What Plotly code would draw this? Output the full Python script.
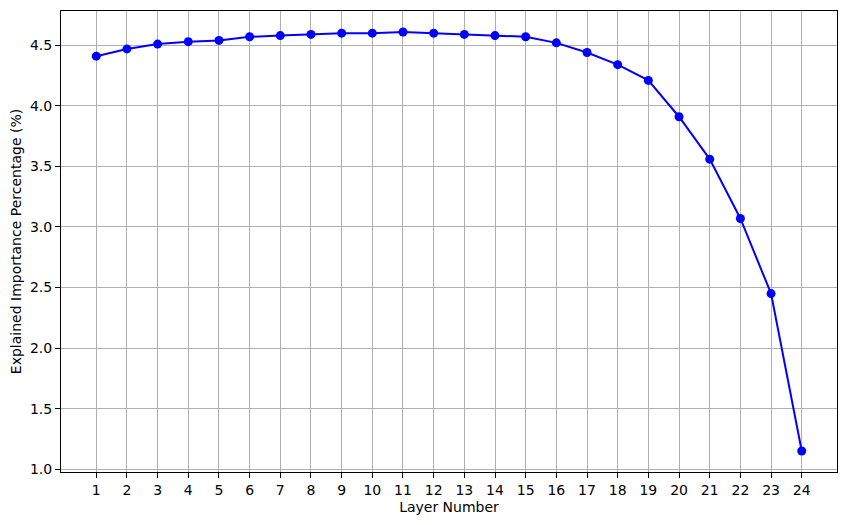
import plotly.graph_objects as go

# layer index and explained importance (%)
layers = list(range(1, 25))
importance = [4.41, 4.47, 4.51, 4.53, 4.54, 4.57, 4.58, 4.59, 4.60, 4.60, 4.61, 4.60,
              4.59, 4.58, 4.57, 4.52, 4.44, 4.34, 4.21, 3.91, 3.56, 3.07, 2.45, 1.15]
y_ticks = [1.0, 1.5, 2.0, 2.5, 3.0, 3.5, 4.0, 4.5]

fig = go.Figure()

fig.add_trace(go.Scatter(x=layers, y=importance, mode='lines+markers',
                         line=dict(color='blue', width=2),
                         marker=dict(color='blue', size=9),
                         showlegend=False))

axis_font = dict(family='DejaVu Sans', size=14, color='black')

# page body has an 8px margin, so the figure is sized/offset to compensate
fig.update_layout(
    width=838, height=517,
    margin=dict(l=53, r=9, t=3, b=53),
    plot_bgcolor='white', paper_bgcolor='white',
    font=axis_font,
    xaxis=dict(range=[-0.15, 25.15], tickmode='array', tickvals=layers,
               ticktext=[str(v) for v in layers], automargin=False,
               showgrid=True, gridcolor='#b0b0b0', gridwidth=1,
               showline=True, linecolor='black', linewidth=1, mirror=True,
               ticks='outside', ticklen=5, tickcolor='black', zeroline=False,
               title=dict(text='Layer Number', font=axis_font, standoff=5)),
    yaxis=dict(range=[0.977, 4.783], tickmode='array', tickvals=y_ticks,
               ticktext=[f'{v:.1f}' for v in y_ticks], automargin=False,
               showgrid=True, gridcolor='#b0b0b0', gridwidth=1,
               showline=True, linecolor='black', linewidth=1, mirror=True,
               ticks='outside', ticklen=5, tickcolor='black', zeroline=False,
               title=dict(text='Explained Importance Percentage (%)', font=axis_font, standoff=8)),
)

fig.write_html("out.html")
